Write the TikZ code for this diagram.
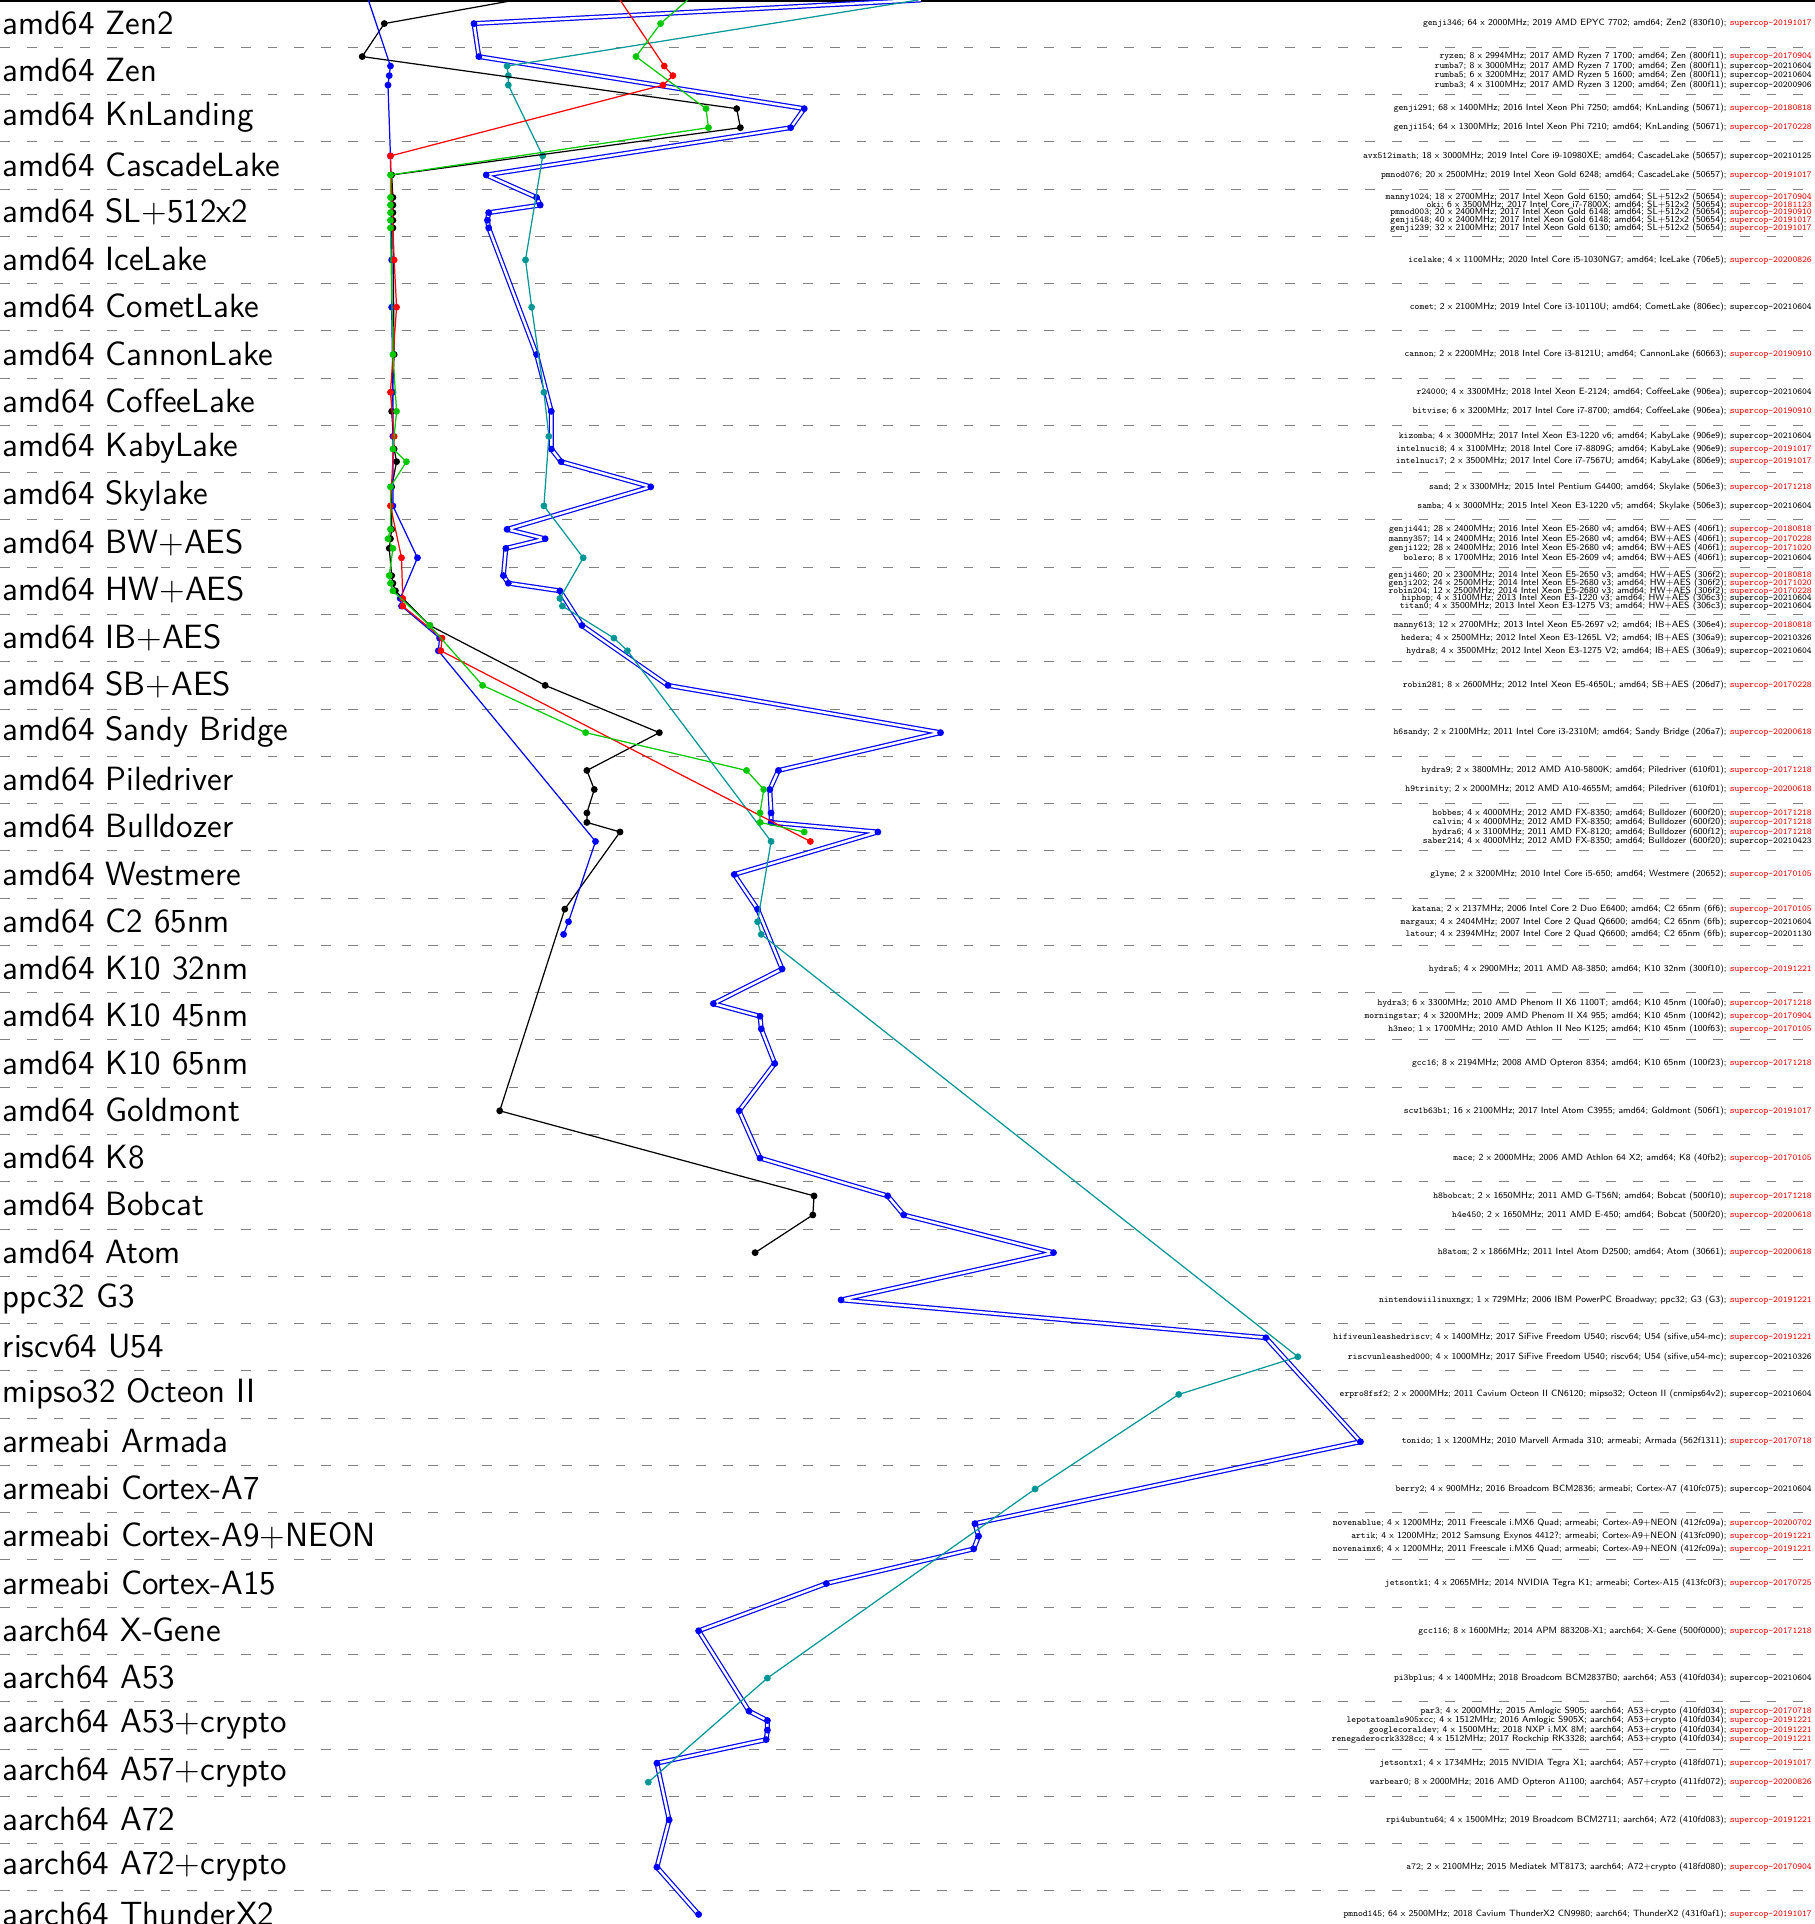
\documentclass[tikz,border=0pt]{standalone}
\usepackage{xcolor}
\definecolor{tealline}{RGB}{0,150,150}
\definecolor{greenline}{RGB}{0,200,0}
\definecolor{sepgray}{RGB}{130,130,130}
\tikzset{
	sep/.style={draw=sepgray, line width=0.4pt, dash pattern=on 4pt off 6.9pt},
	rowlabel/.style={anchor=west, inner sep=0pt, font=\sffamily\fontsize{13.7}{16}\selectfont},
	mtext/.style={anchor=east, inner sep=0pt, font=\sffamily\fontsize{3.7}{4.4}\selectfont},
	series/.style={line width=0.5pt, line join=round},
	dblue/.style={draw=blue, line width=0.5pt, double=white, double distance=1pt, line join=round},
}
% one text line per machine: y, name, description, colour, supercop version
\newcommand{\mach}[5]{\node[mtext] (#2) at (1476,#1) {\texttt{#2}; #3; \textcolor{#4}{\texttt{supercop-#5}}};}

% measured points (x/y) for each series
\def\ptsdblue{386/19.2, 390/46.1, 655/88.5, 644/104, 396/142.5, 437/160.8, 440/167, 398/173.2, 397/179.4, 398/185.6,
	437/288.7, 449/335, 449/365.7, 457/376, 530/396.5, 413/431.1, 444/438.8, 412/446.6, 410/468.8, 414/475, 456/481.2,
	474/509.4, 544/558.2, 766/596.7, 634/627.5, 627/643, 628/662.1, 628/669.8, 715/677.6, 598/712.2, 617/740.4,
	637/789.2, 581/817.4, 619/827.7, 620/838, 631/866.2, 602/904.7, 619/943.2, 723/974, 736/989.5, 858/1020.2,
	685/1058.7, 1031/1089.5, 1108/1174.2, 794/1240.9, 797/1251.2, 793/1261.5, 673/1289.7, 569/1328.2,
	610/1393.6, 625/1401.3, 625/1409.1, 624/1416.8, 535/1436, 545/1482.2, 535/1520.7, 569/1559.2}
\def\ptsteal{413/53.8, 414/61.6, 414/69.3, 442/127, 428/211.7, 433/250.2, 443/319.5, 447/355.4, 443/412, 475/454.3,
	456/487.4, 458/493.6, 500/519.7, 511/530, 628/685.3, 617/750.7, 620/761, 1057/1105, 960/1135.7, 843/1212.7,
	625/1366.7, 528/1451.5}
\def\ptsblack{313/19.2, 295/46.1, 600/88.5, 603/104, 319/142.5, 320/160.8, 320/167, 320/173.2, 320/179.4, 320/185.6,
	321/288.7, 319/335, 321/365.7, 323/376, 319/396.5, 319/431.1, 318/438.8, 317/446.6, 319/468.8, 320/475, 322/481.2,
	350/509.4, 444/558.2, 537/596.7, 478/627.5, 484/643, 478/662.1, 478/669.8, 505/677.6, 460/740.4, 407/904.7,
	663/974, 662/989.5, 615/1020.2}
\def\ptsblue{318/53.8, 317/61.6, 316/69.3, 318/127, 319/211.7, 319/250.2, 320/319.5, 320/355.4, 320/412, 340/454.3,
	326/487.4, 327/493.6, 358/519.7, 357/530, 485/685.3, 463/750.7, 459/761}
\def\ptsred{541/53.8, 548/61.6, 540/69.3, 318/127, 321/211.7, 323/250.2, 318/319.5, 321/355.4, 318/412, 327/454.3,
	328/487.4, 328/493.6, 360/519.7, 359/530, 660/685.3}
\def\ptsgreen{538/19.2, 518/46.1, 575/88.5, 577/104, 318/142.5, 318/160.8, 318/167, 318/173.2, 318/179.4, 318/185.6,
	320/288.7, 323/335, 320/365.7, 331/376, 318/396.5, 318/431.1, 316/438.8, 320/446.6, 317/468.8, 318/475, 320/481.2,
	350/509.4, 393/558.2, 477/596.7, 608/627.5, 622/643, 619/662.1, 619/669.8, 655/677.6}

\begin{document}
\begin{tikzpicture}[x=0.5pt,y=-0.5pt]
	\useasboundingbox (0,0) rectangle (1478,1567);
	% row separators
	\foreach \k in {1,...,40}
		\draw[sep] (0,38.5*\k) -- (1478,38.5*\k);
	\draw[line width=0.8pt] (0,1) -- (1478,1);
	% row labels
	\foreach \lab [count=\k from 0] in {amd64 Zen2, amd64 Zen, amd64 KnLanding, amd64 CascadeLake, amd64 SL+512x2,
		amd64 IceLake, amd64 CometLake, amd64 CannonLake, amd64 CoffeeLake, amd64 KabyLake, amd64 Skylake,
		amd64 BW+AES, amd64 HW+AES, amd64 IB+AES, amd64 SB+AES, amd64 Sandy Bridge, amd64 Piledriver,
		amd64 Bulldozer, amd64 Westmere, amd64 C2 65nm, amd64 K10 32nm, amd64 K10 45nm, amd64 K10 65nm,
		amd64 Goldmont, amd64 K8, amd64 Bobcat, amd64 Atom, ppc32 G3, riscv64 U54, mipso32 Octeon II,
		armeabi Armada, armeabi Cortex-A7, armeabi Cortex-A9+NEON, armeabi Cortex-A15, aarch64 X-Gene,
		aarch64 A53, aarch64 A53+crypto, aarch64 A57+crypto, aarch64 A72, aarch64 A72+crypto, aarch64 ThunderX2}
		\node[rowlabel] (row\k) at (2,18.6+38.5*\k) {\lab};
	% series
	\begin{scope}
		\clip (0,0) rectangle (1478,1567);
		\draw[dblue] (750,0) \foreach \x/\y in \ptsdblue {-- (\x,\y)};
		\foreach \x/\y in \ptsdblue {\fill[blue] (\x,\y) circle (1.4pt);}
		\draw[series,tealline] (748,0) \foreach \x/\y in \ptsteal {-- (\x,\y)};
		\foreach \x/\y in \ptsteal {\fill[tealline] (\x,\y) circle (1.4pt);}
		\draw[series,black] (420,0) \foreach \x/\y in \ptsblack {-- (\x,\y)};
		\foreach \x/\y in \ptsblack {\fill[black] (\x,\y) circle (1.4pt);}
		\draw[series,blue] (300,0) \foreach \x/\y in \ptsblue {-- (\x,\y)};
		\foreach \x/\y in \ptsblue {\fill[blue] (\x,\y) circle (1.4pt);}
		\draw[series,red] (505,0) \foreach \x/\y in \ptsred {-- (\x,\y)};
		\foreach \x/\y in \ptsred {\fill[red] (\x,\y) circle (1.4pt);}
		\draw[series,greenline] (560,0) \foreach \x/\y in \ptsgreen {-- (\x,\y)};
		\foreach \x/\y in \ptsgreen {\fill[greenline] (\x,\y) circle (1.4pt);}
	\end{scope}
	% machines
	\mach{19.2}{genji346}{64 x 2000MHz; 2019 AMD EPYC 7702; amd64; Zen2 (830f10)}{red}{20191017}
	\mach{46.1}{ryzen}{8 x 2994MHz; 2017 AMD Ryzen 7 1700; amd64; Zen (800f11)}{red}{20170904}
	\mach{53.8}{rumba7}{8 x 3000MHz; 2017 AMD Ryzen 7 1700; amd64; Zen (800f11)}{black}{20210604}
	\mach{61.6}{rumba5}{6 x 3200MHz; 2017 AMD Ryzen 5 1600; amd64; Zen (800f11)}{black}{20210604}
	\mach{69.3}{rumba3}{4 x 3100MHz; 2017 AMD Ryzen 3 1200; amd64; Zen (800f11)}{black}{20200906}
	\mach{88.5}{genji291}{68 x 1400MHz; 2016 Intel Xeon Phi 7250; amd64; KnLanding (50671)}{red}{20180818}
	\mach{104}{genji154}{64 x 1300MHz; 2016 Intel Xeon Phi 7210; amd64; KnLanding (50671)}{red}{20170228}
	\mach{127}{avx512imath}{18 x 3000MHz; 2019 Intel Core i9-10980XE; amd64; CascadeLake (50657)}{black}{20210125}
	\mach{142.5}{pmnod076}{20 x 2500MHz; 2019 Intel Xeon Gold 6248; amd64; CascadeLake (50657)}{red}{20191017}
	\mach{160.8}{manny1024}{18 x 2700MHz; 2017 Intel Xeon Gold 6150; amd64; SL+512x2 (50654)}{red}{20170904}
	\mach{167}{oki}{6 x 3500MHz; 2017 Intel Core i7-7800X; amd64; SL+512x2 (50654)}{red}{20181123}
	\mach{173.2}{pmnod003}{20 x 2400MHz; 2017 Intel Xeon Gold 6148; amd64; SL+512x2 (50654)}{red}{20190910}
	\mach{179.4}{genji548}{40 x 2400MHz; 2017 Intel Xeon Gold 6148; amd64; SL+512x2 (50654)}{red}{20191017}
	\mach{185.6}{genji239}{32 x 2100MHz; 2017 Intel Xeon Gold 6130; amd64; SL+512x2 (50654)}{red}{20191017}
	\mach{211.7}{icelake}{4 x 1100MHz; 2020 Intel Core i5-1030NG7; amd64; IceLake (706e5)}{red}{20200826}
	\mach{250.2}{comet}{2 x 2100MHz; 2019 Intel Core i3-10110U; amd64; CometLake (806ec)}{black}{20210604}
	\mach{288.7}{cannon}{2 x 2200MHz; 2018 Intel Core i3-8121U; amd64; CannonLake (60663)}{red}{20190910}
	\mach{319.5}{r24000}{4 x 3300MHz; 2018 Intel Xeon E-2124; amd64; CoffeeLake (906ea)}{black}{20210604}
	\mach{335}{bitvise}{6 x 3200MHz; 2017 Intel Core i7-8700; amd64; CoffeeLake (906ea)}{red}{20190910}
	\mach{355.4}{kizomba}{4 x 3000MHz; 2017 Intel Xeon E3-1220 v6; amd64; KabyLake (906e9)}{black}{20210604}
	\mach{365.7}{intelnuci8}{4 x 3100MHz; 2018 Intel Core i7-8809G; amd64; KabyLake (906e9)}{red}{20191017}
	\mach{376}{intelnuci7}{2 x 3500MHz; 2017 Intel Core i7-7567U; amd64; KabyLake (806e9)}{red}{20191017}
	\mach{396.5}{sand}{2 x 3300MHz; 2015 Intel Pentium G4400; amd64; Skylake (506e3)}{red}{20171218}
	\mach{412}{samba}{4 x 3000MHz; 2015 Intel Xeon E3-1220 v5; amd64; Skylake (506e3)}{black}{20210604}
	\mach{431.1}{genji441}{28 x 2400MHz; 2016 Intel Xeon E5-2680 v4; amd64; BW+AES (406f1)}{red}{20180818}
	\mach{438.8}{manny357}{14 x 2400MHz; 2016 Intel Xeon E5-2680 v4; amd64; BW+AES (406f1)}{red}{20170228}
	\mach{446.6}{genji122}{28 x 2400MHz; 2016 Intel Xeon E5-2680 v4; amd64; BW+AES (406f1)}{red}{20171020}
	\mach{454.3}{bolero}{8 x 1700MHz; 2016 Intel Xeon E5-2609 v4; amd64; BW+AES (406f1)}{black}{20210604}
	\mach{468.8}{genji460}{20 x 2300MHz; 2014 Intel Xeon E5-2650 v3; amd64; HW+AES (306f2)}{red}{20180818}
	\mach{475}{genji202}{24 x 2500MHz; 2014 Intel Xeon E5-2680 v3; amd64; HW+AES (306f2)}{red}{20171020}
	\mach{481.2}{robin204}{12 x 2500MHz; 2014 Intel Xeon E5-2680 v3; amd64; HW+AES (306f2)}{red}{20170228}
	\mach{487.4}{hiphop}{4 x 3100MHz; 2013 Intel Xeon E3-1220 v3; amd64; HW+AES (306c3)}{black}{20210604}
	\mach{493.6}{titan0}{4 x 3500MHz; 2013 Intel Xeon E3-1275 V3; amd64; HW+AES (306c3)}{black}{20210604}
	\mach{509.4}{manny613}{12 x 2700MHz; 2013 Intel Xeon E5-2697 v2; amd64; IB+AES (306e4)}{red}{20180818}
	\mach{519.7}{hedera}{4 x 2500MHz; 2012 Intel Xeon E3-1265L V2; amd64; IB+AES (306a9)}{black}{20210326}
	\mach{530}{hydra8}{4 x 3500MHz; 2012 Intel Xeon E3-1275 V2; amd64; IB+AES (306a9)}{black}{20210604}
	\mach{558.2}{robin281}{8 x 2600MHz; 2012 Intel Xeon E5-4650L; amd64; SB+AES (206d7)}{red}{20170228}
	\mach{596.7}{h6sandy}{2 x 2100MHz; 2011 Intel Core i3-2310M; amd64; Sandy Bridge (206a7)}{red}{20200618}
	\mach{627.5}{hydra9}{2 x 3800MHz; 2012 AMD A10-5800K; amd64; Piledriver (610f01)}{red}{20171218}
	\mach{643}{h9trinity}{2 x 2000MHz; 2012 AMD A10-4655M; amd64; Piledriver (610f01)}{red}{20200618}
	\mach{662.1}{hobbes}{4 x 4000MHz; 2012 AMD FX-8350; amd64; Bulldozer (600f20)}{red}{20171218}
	\mach{669.8}{calvin}{4 x 4000MHz; 2012 AMD FX-8350; amd64; Bulldozer (600f20)}{red}{20171218}
	\mach{677.6}{hydra6}{4 x 3100MHz; 2011 AMD FX-8120; amd64; Bulldozer (600f12)}{red}{20171218}
	\mach{685.3}{saber214}{4 x 4000MHz; 2012 AMD FX-8350; amd64; Bulldozer (600f20)}{black}{20210423}
	\mach{712.2}{glyme}{2 x 3200MHz; 2010 Intel Core i5-650; amd64; Westmere (20652)}{red}{20170105}
	\mach{740.4}{katana}{2 x 2137MHz; 2006 Intel Core 2 Duo E6400; amd64; C2 65nm (6f6)}{red}{20170105}
	\mach{750.7}{margaux}{4 x 2404MHz; 2007 Intel Core 2 Quad Q6600; amd64; C2 65nm (6fb)}{black}{20210604}
	\mach{761}{latour}{4 x 2394MHz; 2007 Intel Core 2 Quad Q6600; amd64; C2 65nm (6fb)}{black}{20201130}
	\mach{789.2}{hydra5}{4 x 2900MHz; 2011 AMD A8-3850; amd64; K10 32nm (300f10)}{red}{20191221}
	\mach{817.4}{hydra3}{6 x 3300MHz; 2010 AMD Phenom II X6 1100T; amd64; K10 45nm (100fa0)}{red}{20171218}
	\mach{827.7}{morningstar}{4 x 3200MHz; 2009 AMD Phenom II X4 955; amd64; K10 45nm (100f42)}{red}{20170904}
	\mach{838}{h3neo}{1 x 1700MHz; 2010 AMD Athlon II Neo K125; amd64; K10 45nm (100f63)}{red}{20170105}
	\mach{866.2}{gcc16}{8 x 2194MHz; 2008 AMD Opteron 8354; amd64; K10 65nm (100f23)}{red}{20171218}
	\mach{904.7}{scw1b63b1}{16 x 2100MHz; 2017 Intel Atom C3955; amd64; Goldmont (506f1)}{red}{20191017}
	\mach{943.2}{mace}{2 x 2000MHz; 2006 AMD Athlon 64 X2; amd64; K8 (40fb2)}{red}{20170105}
	\mach{974}{h8bobcat}{2 x 1650MHz; 2011 AMD G-T56N; amd64; Bobcat (500f10)}{red}{20171218}
	\mach{989.5}{h4e450}{2 x 1650MHz; 2011 AMD E-450; amd64; Bobcat (500f20)}{red}{20200618}
	\mach{1020.2}{h8atom}{2 x 1866MHz; 2011 Intel Atom D2500; amd64; Atom (30661)}{red}{20200618}
	\mach{1058.7}{nintendowiilinuxngx}{1 x 729MHz; 2006 IBM PowerPC Broadway; ppc32; G3 (G3)}{red}{20191221}
	\mach{1089.5}{hifiveunleashedriscv}{4 x 1400MHz; 2017 SiFive Freedom U540; riscv64; U54 (sifive,u54-mc)}{red}{20191221}
	\mach{1105}{riscvunleashed000}{4 x 1000MHz; 2017 SiFive Freedom U540; riscv64; U54 (sifive,u54-mc)}{black}{20210326}
	\mach{1135.7}{erpro8fsf2}{2 x 2000MHz; 2011 Cavium Octeon II CN6120; mipso32; Octeon II (cnmips64v2)}{black}{20210604}
	\mach{1174.2}{tonido}{1 x 1200MHz; 2010 Marvell Armada 310; armeabi; Armada (562f1311)}{red}{20170718}
	\mach{1212.7}{berry2}{4 x 900MHz; 2016 Broadcom BCM2836; armeabi; Cortex-A7 (410fc075)}{black}{20210604}
	\mach{1240.9}{novenablue}{4 x 1200MHz; 2011 Freescale i.MX6 Quad; armeabi; Cortex-A9+NEON (412fc09a)}{red}{20200702}
	\mach{1251.2}{artik}{4 x 1200MHz; 2012 Samsung Exynos 4412?; armeabi; Cortex-A9+NEON (413fc090)}{red}{20191221}
	\mach{1261.5}{novenaimx6}{4 x 1200MHz; 2011 Freescale i.MX6 Quad; armeabi; Cortex-A9+NEON (412fc09a)}{red}{20191221}
	\mach{1289.7}{jetsontk1}{4 x 2065MHz; 2014 NVIDIA Tegra K1; armeabi; Cortex-A15 (413fc0f3)}{red}{20170725}
	\mach{1328.2}{gcc116}{8 x 1600MHz; 2014 APM 883208-X1; aarch64; X-Gene (500f0000)}{red}{20171218}
	\mach{1366.7}{pi3bplus}{4 x 1400MHz; 2018 Broadcom BCM2837B0; aarch64; A53 (410fd034)}{black}{20210604}
	\mach{1393.6}{par3}{4 x 2000MHz; 2015 Amlogic S905; aarch64; A53+crypto (410fd034)}{red}{20170718}
	\mach{1401.3}{lepotatoamls905xcc}{4 x 1512MHz; 2016 Amlogic S905X; aarch64; A53+crypto (410fd034)}{red}{20191221}
	\mach{1409.1}{googlecoraldev}{4 x 1500MHz; 2018 NXP i.MX 8M; aarch64; A53+crypto (410fd034)}{red}{20191221}
	\mach{1416.8}{renegaderocrk3328cc}{4 x 1512MHz; 2017 Rockchip RK3328; aarch64; A53+crypto (410fd034)}{red}{20191221}
	\mach{1436}{jetsontx1}{4 x 1734MHz; 2015 NVIDIA Tegra X1; aarch64; A57+crypto (418fd071)}{red}{20191017}
	\mach{1451.5}{warbear0}{8 x 2000MHz; 2016 AMD Opteron A1100; aarch64; A57+crypto (411fd072)}{red}{20200826}
	\mach{1482.2}{rpi4ubuntu64}{4 x 1500MHz; 2019 Broadcom BCM2711; aarch64; A72 (410fd083)}{red}{20191221}
	\mach{1520.7}{a72}{2 x 2100MHz; 2015 Mediatek MT8173; aarch64; A72+crypto (418fd080)}{red}{20170904}
	\mach{1559.2}{pmnod145}{64 x 2500MHz; 2018 Cavium ThunderX2 CN9980; aarch64; ThunderX2 (431f0af1)}{red}{20191017}
\end{tikzpicture}
\end{document}
